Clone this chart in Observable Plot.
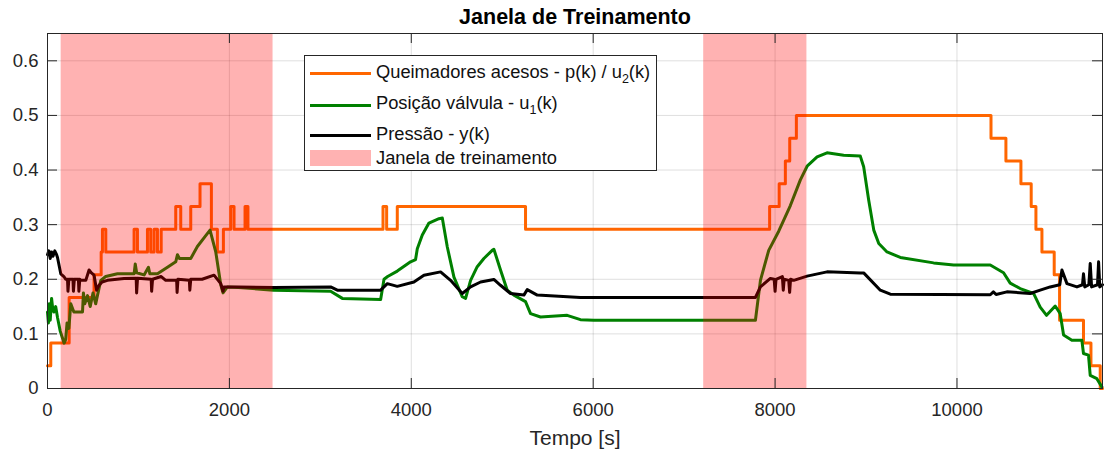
<!DOCTYPE html>
<html>
<head>
<meta charset="utf-8">
<script src="https://cdn.jsdelivr.net/npm/d3@7"></script>
<script src="https://cdn.jsdelivr.net/npm/@observablehq/plot@0.6"></script>
<style>
  html, body { margin: 0; padding: 0; background: #fff; }
  #wrap { position: relative; width: 1107px; height: 456px; font-family: "Liberation Sans", Arial, Helvetica, sans-serif; }
  #legend { position: absolute; left: 304px; top: 55px; width: 353px; height: 116px; box-sizing: border-box;
            border: 1px solid #262626; background: #fff; overflow: hidden; font-size: 18.3px; color: #111; }
  #legend .sw { position: absolute; left: 5px; width: 61px; }
  #legend .tx { position: absolute; left: 71px; line-height: 18px; white-space: nowrap; }
  #legend sub { font-size: 12.5px; vertical-align: -5px; line-height: 0; }
</style>
</head>
<body>
<div id="wrap"></div>
<script>
// ---- data (time in s, values normalised) ----
const xTicks = [0, 2000, 4000, 6000, 8000, 10000];
const yTicks = [0, 0.1, 0.2, 0.3, 0.4, 0.5, 0.6];

const shadeStart = [150, 7215];
const shadeEnd   = [2480, 8350];

// Queimadores acesos - p(k)/u2(k)  (step)
const burnT = [0,36,238,512,590,604,641,952,989,1099,1135,1172,1209,1250,1410,1465,1575,1677,1802,1868,1934,2014,2051,2172,2204,3689,3729,3846,5256,7940,8045,8113,8161,8234,10374,10538,10703,10816,10868,10934,11069,11128,11391,11473,11575,11600];
const burnV = [0.0417,0.0833,0.1667,0.2083,0.25,0.2917,0.25,0.2917,0.25,0.2917,0.25,0.2917,0.25,0.2917,0.3333,0.2917,0.3333,0.375,0.2917,0.25,0.2917,0.3333,0.2917,0.3333,0.2917,0.3333,0.2917,0.3333,0.2917,0.3333,0.375,0.4167,0.4583,0.5,0.4583,0.4167,0.375,0.3333,0.2917,0.25,0.2083,0.125,0.0833,0.0417,0,0];

// Posição válvula - u1(k)
const valveT = [0,10,20,30,45,55,70,90,110,140,183,200,215,235,256,290,385,395,410,440,470,500,530,549,586,640,769,952,965,980,1062,1110,1125,1209,1319,1410,1429,1450,1575,1648,1740,1787,1850,1905,1930,1978,2100,2483,3113,3242,3663,3700,3740,3846,3992,4047,4066,4121,4194,4304,4341,4396,4469,4560,4597,4652,4725,4798,4890,4908,4981,5055,5128,5256,5311,5421,5714,5860,6007,7784,7839,7930,8040,8168,8278,8352,8462,8571,8754,8937,8974,9029,9085,9140,9231,9377,9743,9963,10366,10512,10585,10695,10842,10915,10985,11080,11135,11172,11263,11373,11391,11446,11465,11538,11593];
const valveV = [0.14,0.12,0.155,0.125,0.165,0.15,0.14,0.15,0.13,0.105,0.083,0.09,0.12,0.11,0.155,0.14,0.14,0.175,0.155,0.17,0.15,0.175,0.155,0.17,0.198,0.205,0.21,0.21,0.228,0.212,0.208,0.222,0.21,0.21,0.222,0.232,0.245,0.238,0.238,0.26,0.28,0.29,0.25,0.19,0.175,0.186,0.185,0.18,0.178,0.165,0.163,0.2,0.205,0.215,0.232,0.236,0.256,0.281,0.303,0.311,0.312,0.259,0.204,0.168,0.165,0.198,0.223,0.238,0.253,0.255,0.217,0.18,0.171,0.159,0.137,0.131,0.134,0.126,0.125,0.125,0.198,0.253,0.288,0.335,0.382,0.407,0.424,0.4315,0.427,0.4255,0.406,0.345,0.29,0.2655,0.25,0.24,0.23,0.226,0.226,0.212,0.193,0.183,0.174,0.149,0.134,0.151,0.137,0.098,0.0885,0.0885,0.064,0.061,0.024,0.018,0.003];

// Pressão - y(k)
const pressT = [0,15,30,45,60,80,100,110,146,180,200,220,225,235,280,285,295,340,345,355,366,421,457,480,512,540,567,600,659,842,975,980,990,1140,1145,1155,1250,1300,1420,1425,1435,1560,1565,1575,1700,1831,1905,1930,1940,2100,2490,3113,3187,3663,3736,3846,4029,4139,4322,4432,4560,4652,4762,4908,4981,5091,5238,5275,5385,5860,7784,7839,7948,7990,8000,8010,8080,8090,8100,8150,8160,8170,8205,8352,8571,8937,8974,9157,9267,10366,10400,10430,10549,10805,10915,11025,11130,11154,11209,11319,11380,11391,11405,11450,11465,11480,11545,11557,11570,11600];
const pressV = [0.245,0.252,0.238,0.25,0.242,0.252,0.245,0.24,0.21,0.205,0.2,0.2,0.178,0.2,0.2,0.178,0.2,0.2,0.178,0.2,0.198,0.198,0.217,0.212,0.2075,0.18,0.189,0.195,0.198,0.2015,0.202,0.175,0.202,0.2,0.178,0.2,0.205,0.198,0.198,0.176,0.2,0.198,0.18,0.2,0.2,0.2075,0.192,0.178,0.186,0.186,0.185,0.186,0.18,0.18,0.192,0.187,0.195,0.2075,0.2135,0.198,0.174,0.186,0.195,0.1996,0.189,0.174,0.171,0.181,0.171,0.1667,0.1667,0.186,0.2015,0.2,0.178,0.2,0.205,0.18,0.2,0.198,0.176,0.2,0.198,0.2057,0.2136,0.2117,0.2117,0.18,0.1727,0.1717,0.177,0.172,0.177,0.174,0.18,0.186,0.19,0.217,0.192,0.186,0.19,0.21,0.186,0.19,0.229,0.186,0.19,0.232,0.186,0.19];

const burn  = burnT.map((t, i) => ({t, v: burnV[i]}));
const valve = valveT.map((t, i) => ({t, v: valveV[i]}));
const press = pressT.map((t, i) => ({t, v: pressV[i]}));
const shade = shadeStart.map((s, i) => ({s, e: shadeEnd[i]}));

const W = 1107, H = 456, mL = 47, mR = 5, mT = 33, mB = 68;
const pw = W - mL - mR, ph = H - mT - mB, tk = 10;
const axisCol = "#262626";

const chart = Plot.plot({
  width: W, height: H,
  marginLeft: mL, marginRight: mR, marginTop: mT, marginBottom: mB,
  x: {domain: [0, 11600]},
  y: {domain: [0, 0.65]},
  style: {fontFamily: "'Liberation Sans', Arial, Helvetica, sans-serif", fontSize: "18.5px", color: axisCol, background: "white", overflow: "visible"},
  marks: [
    Plot.ruleY(yTicks, {y: d => d, stroke: axisCol, strokeOpacity: 0.15}),
    Plot.ruleX(xTicks, {x: d => d, stroke: axisCol, strokeOpacity: 0.15}),
    Plot.line(burn,  {x: "t", y: "v", curve: "step-after", stroke: "#FF6600", strokeWidth: 3}),
    Plot.line(valve, {x: "t", y: "v", stroke: "#008000", strokeWidth: 3}),
    Plot.line(press, {x: "t", y: "v", stroke: "#000000", strokeWidth: 3}),
    Plot.rect(shade, {x1: "s", x2: "e", fill: "#ff0000", fillOpacity: 0.3}),
    Plot.frame({stroke: axisCol}),
    Plot.ruleY(yTicks, {y: d => d, stroke: axisCol, insetRight: pw - tk}),
    Plot.ruleY(yTicks, {y: d => d, stroke: axisCol, insetLeft: pw - tk}),
    Plot.ruleX(xTicks, {x: d => d, stroke: axisCol, insetTop: ph - tk}),
    Plot.ruleX(xTicks, {x: d => d, stroke: axisCol, insetBottom: ph - tk}),
    Plot.axisX({ticks: xTicks, tickSize: 0, tickPadding: 14, tickFormat: d => String(d), label: null}),
    Plot.axisY({ticks: yTicks, tickSize: 0, tickPadding: 9, tickFormat: d => d === 0 ? "0" : d.toFixed(1), label: null}),
    Plot.text(["Janela de Treinamento"], {frameAnchor: "top", dy: -16, lineAnchor: "middle", fontWeight: "bold", fontSize: 21.5, fill: "#000"}),
    Plot.text(["Tempo [s]"], {frameAnchor: "bottom", dy: 50, lineAnchor: "middle", fontSize: 21, fill: axisCol})
  ]
});

const wrap = document.getElementById("wrap");
wrap.appendChild(chart);

const legend = document.createElement("div");
legend.id = "legend";
legend.innerHTML = `
  <div class="sw" style="top:15.8px;height:3px;background:#FF6600"></div>
  <div class="tx" style="top:7px">Queimadores acesos - p(k) / u<sub>2</sub>(k)</div>
  <div class="sw" style="top:47.5px;height:3px;background:#008000"></div>
  <div class="tx" style="top:38px">Posição válvula - u<sub>1</sub>(k)</div>
  <div class="sw" style="top:77.5px;height:3px;background:#000"></div>
  <div class="tx" style="top:68.8px">Pressão - y(k)</div>
  <div class="sw" style="top:94px;height:16px;background:rgba(255,0,0,0.3)"></div>
  <div class="tx" style="top:93px">Janela de treinamento</div>
`;
wrap.appendChild(legend);
</script>
</body>
</html>
